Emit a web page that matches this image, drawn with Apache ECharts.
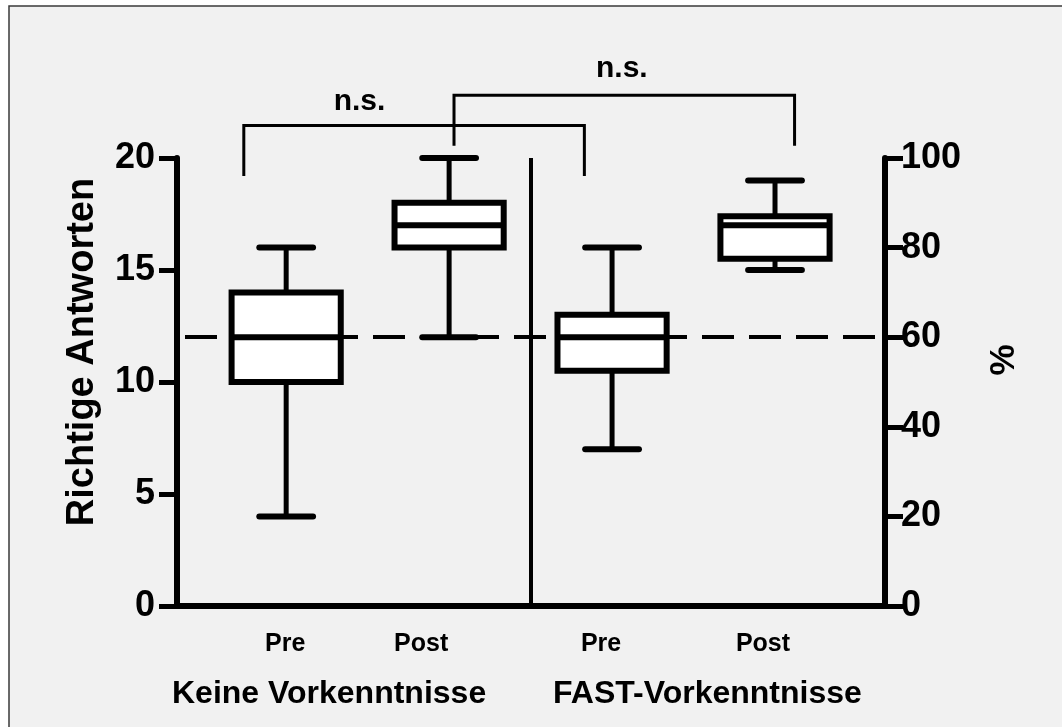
<!DOCTYPE html>
<html>
<head>
<meta charset="utf-8">
<title>Richtige Antworten Pre/Post</title>
<script src="https://cdn.jsdelivr.net/npm/echarts@6/dist/echarts.min.js"></script>
<style>
  html, body { margin: 0; padding: 0; background: #fff; }
  #main { width: 1062px; height: 727px; }
</style>
</head>
<body>
<div id="main"></div>
<script>
// Gruppen und Zeitpunkte
var groups = ['Keine Vorkenntnisse', 'FAST-Vorkenntnisse'];
var timepoints = ['Pre', 'Post', 'Pre', 'Post'];

// Boxplot-Werte (Richtige Antworten, 0-20)
var whiskerLow = [4, 12, 7, 15];
var q1 = [10, 16, 10.5, 15.5];
var median = [12, 17, 12, 17];
var q3 = [14, 18, 13, 17.4];
var whiskerHigh = [16, 20, 16, 19];

// Referenzlinie (60 %)
var refValue = 12;

// Achsen
var leftTicks = [0, 5, 10, 15, 20];
var rightTicks = [0, 20, 40, 60, 80, 100];

// Signifikanz-Klammern (x in Box-Einheiten, y in Antworten)
var bracketFrom = [0.74, 2.03];
var bracketTo = [2.83, 4.12];
var bracketTop = [21.45, 22.8];
var bracketFoot = [19.2, 20.55];
var bracketText = ['n.s.', 'n.s.'];
var bracketTextX = [1.45, 3.06];
var bracketTextY = [22.5, 24.0];

var FONT = 'Arial, "Liberation Sans", Helvetica, sans-serif';

var boxData = timepoints.map(function (t, i) {
  return [i + 1, whiskerLow[i], q1[i], median[i], q3[i], whiskerHigh[i]];
});
var bracketData = bracketText.map(function (t, i) {
  return [bracketFrom[i], bracketTo[i], bracketTop[i], bracketFoot[i], bracketTextX[i], bracketTextY[i], t];
});

var chart = echarts.init(document.getElementById('main'));

var option = {
  backgroundColor: '#fff',
  animation: false,
  graphic: [
    {
      type: 'rect', z: -10,
      shape: { x: 9, y: 6, width: 1100, height: 800 },
      style: { fill: '#f1f1f1', stroke: '#3a3a3a', lineWidth: 1.5 }
    },
    {
      type: 'text', left: 172, top: 678, z: 10,
      style: { text: groups[0], fill: '#000', font: 'bold 32px ' + FONT }
    },
    {
      type: 'text', left: 553, top: 678, z: 10,
      style: { text: groups[1], fill: '#000', font: 'bold 32px ' + FONT }
    }
  ],
  grid: { left: 177, right: 177, top: 158, bottom: 121 },
  xAxis: {
    type: 'value',
    min: 0.33,
    max: 4.675,
    axisLine: { show: true, onZero: false, lineStyle: { color: '#000', width: 6 } },
    axisTick: { show: false },
    splitLine: { show: false },
    axisLabel: {
      customValues: [1, 2, 3, 4],
      margin: 26,
      color: '#000',
      fontFamily: FONT,
      fontWeight: 'bold',
      fontSize: 25,
      formatter: function (v) {
        return '{l' + v + '|' + timepoints[v - 1] + '}';
      },
      rich: {
        l1: { padding: [0, 2, 0, 0], fontSize: 25, fontWeight: 'bold', fontFamily: FONT, color: '#000' },
        l2: { padding: [0, 56, 0, 0], fontSize: 25, fontWeight: 'bold', fontFamily: FONT, color: '#000' },
        l3: { padding: [0, 22, 0, 0], fontSize: 25, fontWeight: 'bold', fontFamily: FONT, color: '#000' },
        l4: { padding: [0, 24, 0, 0], fontSize: 25, fontWeight: 'bold', fontFamily: FONT, color: '#000' }
      }
    }
  },
  yAxis: [
    {
      type: 'value',
      position: 'left',
      min: leftTicks[0],
      max: leftTicks[leftTicks.length - 1],
      interval: 5,
      name: 'Richtige Antworten',
      nameLocation: 'middle',
      nameRotate: 90,
      nameGap: 75,
      nameTextStyle: { color: '#000', fontFamily: FONT, fontWeight: 'bold', fontSize: 38, padding: [0, 0, 0, 60] },
      axisLine: { show: true, onZero: false, lineStyle: { color: '#000', width: 6 } },
      axisTick: { show: true, length: 18, lineStyle: { color: '#000', width: 5 } },
      splitLine: { show: false },
      axisLabel: { margin: 22, color: '#000', fontFamily: FONT, fontWeight: 'bold', fontSize: 36 }
    },
    {
      type: 'value',
      position: 'right',
      min: rightTicks[0],
      max: rightTicks[rightTicks.length - 1],
      interval: 20,
      name: '%',
      nameLocation: 'middle',
      nameRotate: 90,
      nameGap: 102,
      nameTextStyle: { color: '#000', fontFamily: FONT, fontWeight: 'bold', fontSize: 35, padding: [0, 0, 0, 44] },
      axisLine: { show: true, onZero: false, lineStyle: { color: '#000', width: 6 } },
      axisTick: { show: true, length: 18, lineStyle: { color: '#000', width: 5 } },
      splitLine: { show: false },
      axisLabel: { margin: 16, color: '#000', fontFamily: FONT, fontWeight: 'bold', fontSize: 36 }
    }
  ],
  series: [
    {
      type: 'custom',
      name: 'Boxplot',
      xAxisIndex: 0,
      yAxisIndex: 0,
      clip: false,
      data: boxData,
      renderItem: function (params, api) {
        var x = api.value(0);
        var lo = api.coord([x, api.value(1)]);
        var b1 = api.coord([x, api.value(2)]);
        var md = api.coord([x, api.value(3)]);
        var b3 = api.coord([x, api.value(4)]);
        var hi = api.coord([x, api.value(5)]);
        var unit = api.size([1, 0])[0];
        var bw = unit * 0.67;
        var cw = unit * 0.33;
        var cx = lo[0];
        var ink = { stroke: '#000', lineWidth: 5 };
        var cap = { stroke: '#000', lineWidth: 6, lineCap: 'round' };
        return {
          type: 'group',
          children: [
            { type: 'line', shape: { x1: cx, y1: lo[1], x2: cx, y2: b1[1] }, style: ink },
            { type: 'line', shape: { x1: cx, y1: hi[1], x2: cx, y2: b3[1] }, style: ink },
            { type: 'line', shape: { x1: cx - cw / 2, y1: lo[1], x2: cx + cw / 2, y2: lo[1] }, style: cap },
            { type: 'line', shape: { x1: cx - cw / 2, y1: hi[1], x2: cx + cw / 2, y2: hi[1] }, style: cap },
            {
              type: 'rect',
              shape: { x: cx - bw / 2, y: b3[1], width: bw, height: b1[1] - b3[1] },
              style: { fill: '#fff', stroke: '#000', lineWidth: 6 }
            },
            { type: 'line', shape: { x1: cx - bw / 2, y1: md[1], x2: cx + bw / 2, y2: md[1] }, style: { stroke: '#000', lineWidth: 6 } }
          ]
        };
      },
      markLine: {
        silent: true,
        symbol: 'none',
        label: { show: false },
        data: [
          { xAxis: 2.5, lineStyle: { color: '#000', width: 4, type: 'solid' } },
          { yAxis: refValue, lineStyle: { color: '#000', width: 4, type: [32, 15], dashOffset: 39 } }
        ]
      }
    },
    {
      type: 'custom',
      name: 'Klammern',
      xAxisIndex: 0,
      yAxisIndex: 0,
      clip: false,
      data: bracketData,
      renderItem: function (params, api) {
        var a = api.coord([api.value(0), api.value(2)]);
        var b = api.coord([api.value(1), api.value(2)]);
        var fa = api.coord([api.value(0), api.value(3)]);
        var fb = api.coord([api.value(1), api.value(3)]);
        var t = api.coord([api.value(4), api.value(5)]);
        return {
          type: 'group',
          children: [
            {
              type: 'polyline',
              shape: { points: [[fa[0], fa[1]], [a[0], a[1]], [b[0], b[1]], [fb[0], fb[1]]] },
              style: { stroke: '#000', lineWidth: 3, fill: null }
            },
            {
              type: 'text',
              style: {
                x: t[0], y: t[1],
                text: bracketText[params.dataIndex],
                align: 'center', verticalAlign: 'middle',
                fill: '#000', font: 'bold 30px ' + FONT
              }
            }
          ]
        };
      }
    }
  ]
};

chart.setOption(option);
</script>
</body>
</html>
